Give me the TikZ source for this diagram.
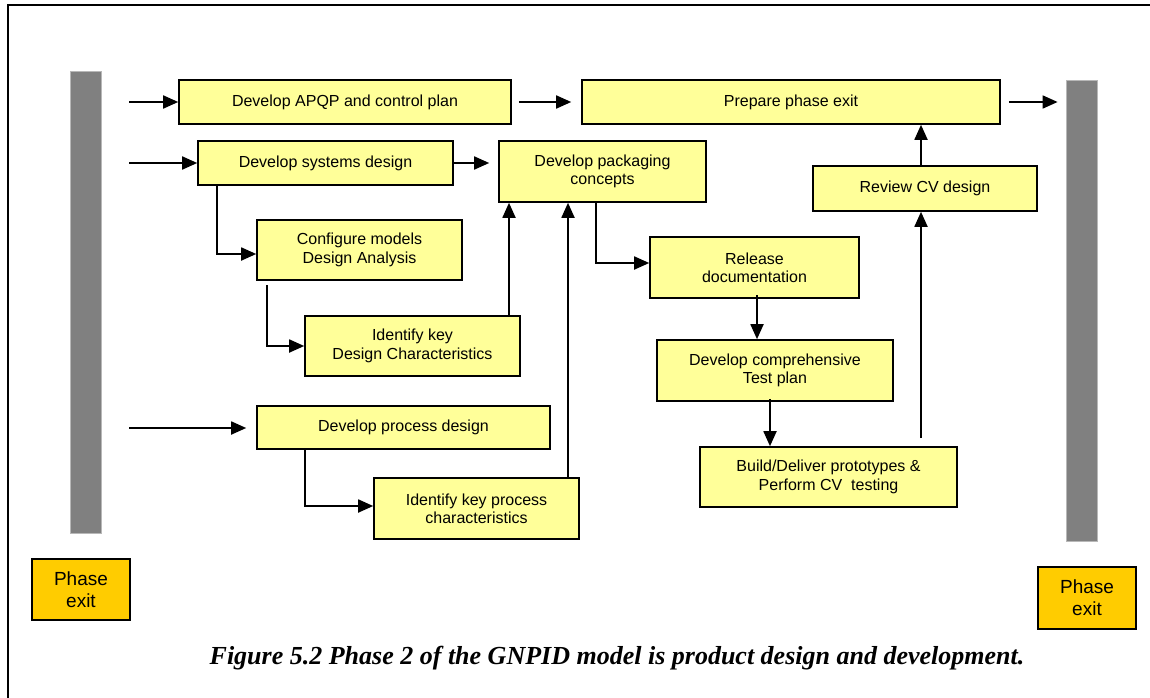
\documentclass[tikz,border=0pt]{standalone}
\usepackage{fontspec}
\setmainfont{Liberation Sans}
\newfontfamily\capfont{Liberation Serif}
\usetikzlibrary{arrows.meta,positioning}
\definecolor{stepyellow}{HTML}{FFFF99}
\definecolor{exitgold}{HTML}{FFCC00}
\definecolor{bargray}{HTML}{808080}
\definecolor{barrim}{HTML}{B8B8B8}
\tikzset{
  stepbox/.style={draw=black, line width=1.6pt, fill=stepyellow, inner sep=0pt,
    align=center, font=\fontsize{16}{18.4}\selectfont},
  exitbox/.style={draw=black, line width=1.8pt, fill=exitgold, inner sep=0pt,
    align=center, font=\fontsize{19}{21.7}\selectfont},
  phasebar/.style={draw=barrim, line width=0.8pt, fill=bargray, inner sep=0pt},
  flow/.style={line width=1.8pt, -{Triangle[length=15pt,width=13pt]}},
  wire/.style={line width=1.8pt},
}
\begin{document}
\begin{tikzpicture}[x=1pt,y=-1pt]
\useasboundingbox (0,0) rectangle (1150,698);
% outer frame (left and top edges)
\draw[line width=2.5pt] (8,698) -- (8,5) -- (1150,5);

% phase boundaries
\node[phasebar, minimum width=31pt, minimum height=462pt] (lbar) at (85.5,302) {};
\node[phasebar, minimum width=31pt, minimum height=461pt] (rbar) at (1081.5,310.5) {};
\node[exitbox, minimum width=98pt, minimum height=61pt] (lexit) at (81,589.5) {Phase\\exit};
\node[exitbox, minimum width=98pt, minimum height=62pt] (rexit) at (1087,598) {Phase\\exit};

% activities
\node[stepbox, minimum width=332pt, minimum height=44pt] (apqp) at (345,102) {Develop APQP and control plan};
\node[stepbox, minimum width=418pt, minimum height=44pt] (prep) at (791,102) {Prepare phase exit};
\node[stepbox, minimum width=255pt, minimum height=44pt] (sys) at (325.5,163) {Develop systems design};
\node[stepbox, minimum width=207pt, minimum height=61pt] (pack) at (602.5,171.5) {Develop packaging\\concepts};
\node[stepbox, minimum width=224pt, minimum height=45pt] (review) at (925,188.5) {Review CV design};
\node[stepbox, minimum width=205pt, minimum height=60pt] (config) at (359.5,250) {Configure models\\Design Analysis};
\node[stepbox, minimum width=209pt, minimum height=61pt] (release) at (754.5,267.5) {Release\\documentation};
\node[stepbox, minimum width=215pt, minimum height=60pt] (idd) at (412.5,346) {Identify key\\Design Characteristics};
\node[stepbox, minimum width=236pt, minimum height=61pt] (test) at (775,370.5) {Develop comprehensive\\Test plan};
\node[stepbox, minimum width=293pt, minimum height=43pt] (proc) at (403.5,427.5) {Develop process design};
\node[stepbox, minimum width=257pt, minimum height=60pt] (build) at (828.5,477) {Build/Deliver prototypes \&\\Perform CV\ \ testing};
\node[stepbox, minimum width=205pt, minimum height=61pt] (idp) at (476.5,508.5) {Identify key process\\characteristics};

% free starting points of the entry arrows
\coordinate (inA) at (129,102);
\coordinate (inB) at (129,163);
\coordinate (inC) at (129,428);

% routing points
\coordinate (packdrop) at (596,202);
\coordinate (sysdrop) at (217,185);
\coordinate (cfgdrop) at (267,285);
\coordinate (procdrop) at (305,449);
\coordinate (iddup) at (509,316);
\coordinate (idpup) at (568,478);
\coordinate (buildup) at (921,438);
\coordinate (reviewup) at (921,166);

% connectors
\draw[flow] (inA) -- (apqp.west);
\draw[flow] (inB) -- (sys.west);
\draw[flow] (inC) -- ([xshift=-10pt]proc.west |- inC);
\draw[flow] (sys.east) -- ([xshift=-9pt]pack.west |- sys.east);
\draw[flow, shorten <=7pt, shorten >=10pt] (apqp.east) -- (prep.west);
\draw[flow, shorten <=8pt, shorten >=8pt] (prep.east) -- (rbar.west |- prep.east);
\draw[flow] (reviewup) -- (reviewup |- prep.south);
\draw[flow] (buildup) -- (buildup |- review.south);
\draw[flow] (packdrop) |- ([yshift=4.5pt]release.west);
\draw[flow] ([xshift=2.5pt,yshift=4pt]release.south) -- ([xshift=2.5pt]release.south |- test.north);
\draw[flow] ([xshift=-5pt,yshift=3pt]test.south) -- ([xshift=-5pt]test.south |- build.north);
\draw[flow] (sysdrop) |- ([yshift=-4pt]config.west);
\draw[flow] (cfgdrop) |- (idd.west);
\draw[flow] (procdrop) |- ([yshift=2.5pt]idp.west);
\draw[flow] (iddup) -- (iddup |- pack.south);
\draw[flow] (idpup) -- (idpup |- pack.south);

% caption
\node[font=\capfont\bfseries\itshape\fontsize{26}{29}\selectfont, anchor=base] (cap) at (617,664)
  {Figure 5.2 Phase 2 of the GNPID model is product design and development.};
\end{tikzpicture}
\end{document}
